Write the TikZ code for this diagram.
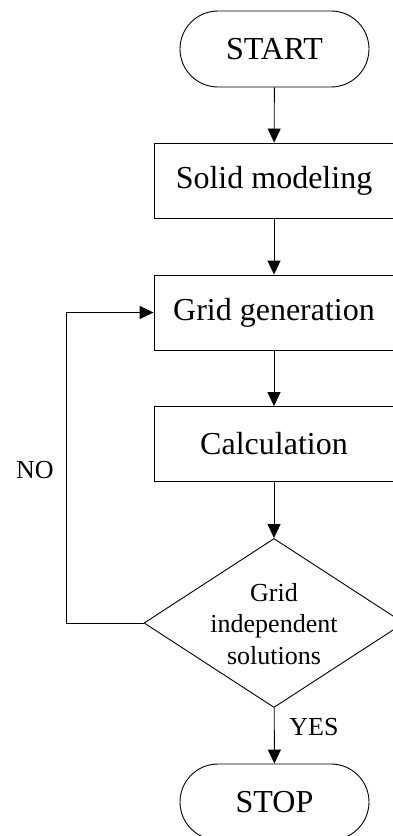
\documentclass[tikz,border=0pt]{standalone}
\usepackage{fontspec}
\setmainfont{Liberation Serif}
\usetikzlibrary{arrows.meta,shapes.geometric}
\begin{document}
\begin{tikzpicture}[x=1pt,y=-1pt,
  line width=0.9pt,
  term/.style={draw, rounded corners=38pt, minimum width=189pt, minimum height=76pt, inner sep=0pt, font=\fontsize{32}{38}\selectfont},
  procbox/.style={draw, minimum width=240pt, minimum height=75pt, inner sep=0pt, font=\fontsize{32}{38}\selectfont},
  decision/.style={draw, diamond, minimum width=260pt, minimum height=169pt, inner sep=0pt},
  dectext/.style={align=center, inner sep=0pt, font=\fontsize{26}{31.5}\selectfont},
  lbl/.style={inner sep=0pt, font=\fontsize{26}{31}\selectfont},
  arr/.style={-{Triangle[length=14pt,width=13pt]}}
]
\useasboundingbox (0,0) rectangle (393,836);
\clip (0,0) rectangle (393,836);
\node[term] (start) at (274.5,49) {START};
\node[procbox] (solid) at (274,180.5) {Solid modeling};
\node[procbox] (grid) at (274,312.5) {Grid generation};
\node[procbox] (calc) at (274,444) {Calculation};
\node[decision] (dec) at (274,623) {};
\node[dectext] (dectxt) at (274,624) {Grid\\independent\\solutions};
\node[term] (stop) at (274.5,802) {STOP};
\node[lbl] (no) at (35,470) {NO};
\node[lbl] (yes) at (314,727) {YES};
\coordinate (loopc) at (66,623);
\draw[arr] (start) -- (solid);
\draw[arr] (solid) -- (grid);
\draw[arr] (grid) -- (calc);
\draw[arr] (calc) -- (dec);
\draw[arr] (dec) -- (stop);
\draw[arr] (dec.west) -- (loopc) |- (grid.west);
\end{tikzpicture}
\end{document}
